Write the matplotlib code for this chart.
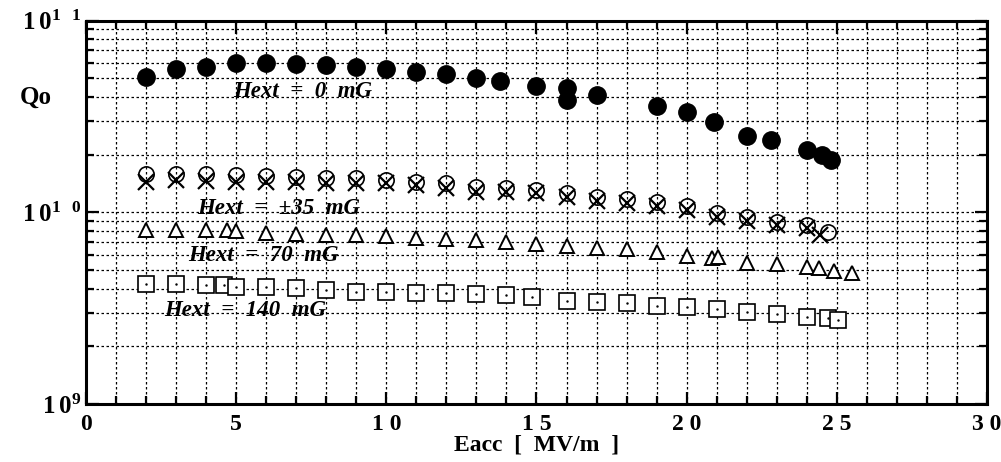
import matplotlib
import matplotlib.pyplot as plt
import numpy as np
from matplotlib.ticker import FixedLocator, LogLocator, NullFormatter

params = {"font.family": "serif", "font.serif": ["Liberation Serif", "DejaVu Serif"],
          "mathtext.fontset": "custom", "mathtext.rm": "Liberation Serif",
          "mathtext.bf": "Liberation Serif:bold"}
matplotlib.rcParams.update(params)

# Hext = 0 mG (filled circles)
e0 = [2, 3, 4, 5, 6, 7, 8, 9, 10, 11, 12, 13, 13.8, 15, 16, 16, 17, 19, 20, 20.9, 22, 22.8, 24, 24.5, 24.8]
q0 = [5.09e10, 5.57e10, 5.74e10, 5.98e10, 6.03e10, 5.95e10, 5.84e10, 5.70e10, 5.57e10, 5.41e10,
      5.26e10, 4.99e10, 4.84e10, 4.57e10, 4.43e10, 3.85e10, 4.09e10, 3.58e10, 3.35e10, 2.97e10,
      2.51e10, 2.38e10, 2.11e10, 2.0e10, 1.87e10]

# Hext = +-35 mG (open circles and crosses)
e35c = [2, 3, 4, 5, 6, 7, 8, 9, 10, 11, 12, 13, 14, 15, 16, 17, 18, 19, 20, 21, 22, 23, 24, 24.7]
q35c = [1.577e10, 1.577e10, 1.577e10, 1.564e10, 1.550e10, 1.532e10, 1.514e10, 1.503e10, 1.473e10,
        1.443e10, 1.416e10, 1.359e10, 1.343e10, 1.306e10, 1.256e10, 1.205e10, 1.168e10, 1.135e10,
        1.078e10, 9.87e9, 9.41e9, 8.93e9, 8.58e9, 7.92e9]
e35x = [2, 3, 4, 5, 6, 7, 8, 9, 10, 11, 12, 13, 14, 15, 16, 17, 18, 19, 20, 21, 22, 23, 24, 24.45]
q35x = [1.443e10, 1.473e10, 1.461e10, 1.443e10, 1.443e10, 1.443e10, 1.426e10, 1.416e10, 1.416e10,
        1.387e10, 1.333e10, 1.280e10, 1.280e10, 1.256e10, 1.197e10, 1.145e10, 1.121e10, 1.078e10,
        1.027e10, 9.48e9, 9.03e9, 8.58e9, 8.25e9, 7.61e9]

# Hext = 70 mG (triangles)
e70 = [2, 3, 4, 4.7, 5, 6, 7, 8, 9, 10, 11, 12, 13, 14, 15, 16, 17, 18, 19, 20, 20.85, 21.05,
       22, 23, 24, 24.4, 24.9, 25.5]
q70 = [8.08e9, 8.08e9, 8.08e9, 8.08e9, 8.0e9, 7.82e9, 7.70e9, 7.61e9, 7.61e9, 7.52e9, 7.37e9,
       7.23e9, 7.17e9, 7.02e9, 6.83e9, 6.67e9, 6.49e9, 6.41e9, 6.18e9, 5.93e9, 5.79e9, 5.87e9,
       5.46e9, 5.35e9, 5.20e9, 5.10e9, 4.94e9, 4.84e9]

# Hext = 140 mG (squares)
e140 = [2, 3, 4, 4.6, 5, 6, 7, 8, 9, 10, 11, 12, 13, 14, 14.85, 16, 17, 18, 19, 20, 21, 22, 23,
        24, 24.7, 25.05]
q140 = [4.23e9, 4.23e9, 4.17e9, 4.17e9, 4.09e9, 4.09e9, 4.04e9, 3.93e9, 3.85e9, 3.82e9, 3.81e9,
        3.78e9, 3.75e9, 3.70e9, 3.63e9, 3.46e9, 3.39e9, 3.35e9, 3.26e9, 3.22e9, 3.12e9, 3.03e9,
        2.95e9, 2.85e9, 2.80e9, 2.74e9]

labels = ["Hext  =  0  mG", "Hext  =  \u00b135  mG", "Hext  =  70  mG", "Hext  =  140  mG"]
label_xy = [(4.9, 4.24e10), (3.7, 1.05e10), (3.4, 5.98e9), (2.6, 3.09e9)]

fig = plt.figure(figsize=(10.01, 4.62), dpi=100)
ax = fig.add_axes([0.0859, 0.1255, 0.9001, 0.8301])
ax.set_yscale("log")
ax.set_xlim(0, 30)
ax.set_ylim(1e9, 1e11)

ax.plot(e0, q0, "o", color="black", ms=12.5, ls="none", zorder=3)
ax.plot(e35c, q35c, "o", mfc="none", mec="black", mew=1.2, ms=11, ls="none", zorder=3)
ax.plot(e35x, q35x, "x", color="black", mew=1.6, ms=11, ls="none", zorder=3)
ax.plot(e70, q70, "^", mfc="white", mec="black", mew=1.4, ms=10, ls="none", zorder=3)
ax.plot(e140, q140, "s", mfc="white", mec="black", mew=1.2, ms=11, ls="none", zorder=3)
ax.plot(e140, q140, ".", color="black", ms=1.5, ls="none", zorder=4)

for txt, (tx, ty) in zip(labels, label_xy):
    ax.text(tx, ty, txt, fontsize=16.5, fontweight="bold", fontstyle="italic",
            ha="left", va="center", zorder=5)

# ticks and grid
ax.xaxis.set_major_locator(FixedLocator([0, 5, 10, 15, 20, 25, 30]))
ax.xaxis.set_minor_locator(FixedLocator(np.arange(0, 31, 1)))
ax.set_xticklabels(["0", "5", "1 0", "1 5", "2 0", "2 5", "3 0"], fontsize=17, fontweight="bold")
ax.yaxis.set_major_locator(FixedLocator([1e9, 1e10, 1e11]))
ax.yaxis.set_minor_locator(LogLocator(base=10, subs=np.arange(2, 10)))
ax.yaxis.set_minor_formatter(NullFormatter())
ax.set_yticklabels([r"$\mathbf{1\,0^{9}}$", r"$\mathbf{1\,0^{1\ \ 0}}$", r"$\mathbf{1\,0^{1\ \ 1}}$"],
                   fontsize=18)
ax.tick_params(which="both", direction="in", top=True, right=True, width=1.6)
ax.tick_params(axis="x", which="major", pad=7)
ax.tick_params(which="major", length=9)
ax.tick_params(which="minor", length=6)
ax.grid(which="both", color="black", linestyle=(0, (2, 2)), linewidth=0.9)
for sp in ax.spines.values():
    sp.set_linewidth(2.2)

fig.text(0.02, 0.79, "Qo", fontsize=18, fontweight="bold", ha="left", va="center")
ax.set_xlabel("Eacc  [  MV/m  ]", fontsize=17, fontweight="bold", labelpad=0)

plt.savefig("out.png", dpi=100)
